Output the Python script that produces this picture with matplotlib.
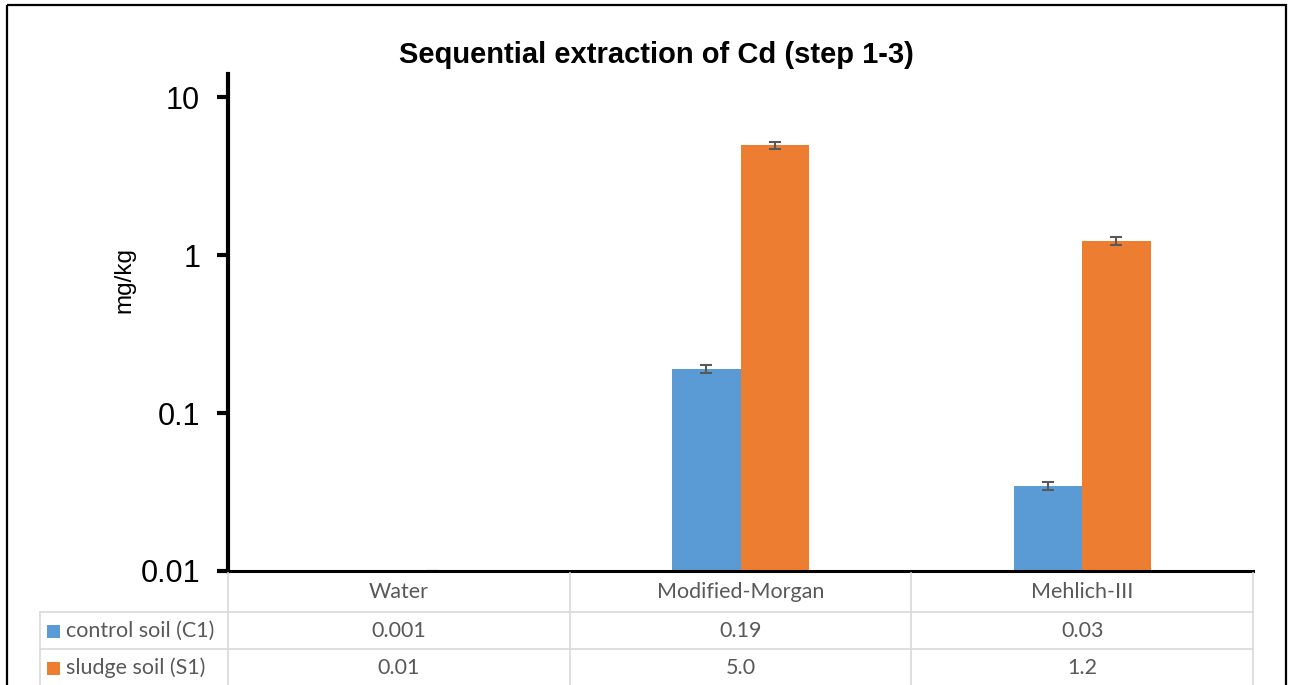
import numpy as np
import matplotlib.pyplot as plt
from matplotlib import transforms
from matplotlib.lines import Line2D
from matplotlib.patches import Rectangle
from matplotlib.ticker import NullLocator

categories = ['Water', 'Modified-Morgan', 'Mehlich-III']
series = ['control soil (C1)', 'sludge soil (S1)']
control = [0.001, 0.19, 0.0345]
sludge = [0.01, 4.95, 1.23]
control_err = [0.0, 0.01, 0.0019]
sludge_err = [0.0, 0.25, 0.067]
table_control = ['0.001', '0.19', '0.03']
table_sludge = ['0.01', '5.0', '1.2']
colors = ['#5B9BD5', '#ED7D31']

W, H = 1289, 685
fig = plt.figure(figsize=(W / 100, H / 100), dpi=100)
# pixel coords measured from top-left
pix = transforms.Affine2D().scale(1 / W, -1 / H).translate(0, 1) + fig.transFigure

ax = fig.add_axes([228 / W, (H - 571) / H, (1253 - 228) / W, (571 - 74) / H])
x = np.arange(len(categories))
w = 0.2
ekw = dict(ecolor='#595959', elinewidth=1.5, capsize=4.3, capthick=1.5)
ax.bar(x - w / 2, control, w, yerr=control_err, color=colors[0], error_kw=ekw)
ax.bar(x + w / 2, sludge, w, yerr=sludge_err, color=colors[1], error_kw=ekw)
ax.set_yscale('log')
ax.set_ylim(0.01, 14)
ax.set_xlim(-0.5, 2.5)
ax.set_yticks([0.01, 0.1, 1, 10])
ax.set_yticklabels(['0.01', '0.1', '1', '10'], family='Liberation Sans')
ax.yaxis.set_minor_locator(NullLocator())
ax.set_xticks([])
for s in ['top', 'right']:
    ax.spines[s].set_visible(False)
ax.spines['left'].set_linewidth(3)
ax.spines['bottom'].set_linewidth(2.2)
ax.tick_params(axis='y', length=8, width=3, labelsize=22, pad=12)

fig.text(656, 55, 'Sequential extraction of Cd (step 1-3)', transform=pix,
         ha='center', va='center', fontsize=21, weight='bold', family='Liberation Sans')
fig.text(124, 280, 'mg/kg', transform=pix, rotation=90, ha='center', va='center',
         fontsize=17.5, family='Liberation Sans')

# data table under the axis
grid = '#D9D9D9'
tcol = '#595959'
tf = 'Lato'
tsize = 15.5
colx = transforms.blended_transform_factory(ax.transData, pix)
bounds = np.arange(len(categories) + 1) - 0.5
for b in bounds:
    fig.add_artist(Line2D([b, b], [573, 700], transform=colx, color=grid, lw=1.2))
fig.add_artist(Line2D([40, 40], [612, 700], transform=pix, color=grid, lw=1.2))
for yy in [612, 649]:
    fig.add_artist(Line2D([40, 1253], [yy, yy], transform=pix, color=grid, lw=1.2))

rows_y = [592, 631, 668]
for i, c in enumerate(categories):
    fig.text(x[i], rows_y[0], c, transform=colx, ha='center', va='center',
             fontsize=tsize, color=tcol, family=tf)
    fig.text(x[i], rows_y[1], table_control[i], transform=colx, ha='center', va='center',
             fontsize=tsize, color=tcol, family=tf)
    fig.text(x[i], rows_y[2], table_sludge[i], transform=colx, ha='center', va='center',
             fontsize=tsize, color=tcol, family=tf)
for j, name in enumerate(series):
    yy = rows_y[j + 1]
    fig.add_artist(Rectangle((47, yy - 6), 13, 13, transform=pix, color=colors[j], lw=0))
    fig.text(66, yy, name, transform=pix, ha='left', va='center',
             fontsize=tsize, color=tcol, family=tf)

# chart border
fig.add_artist(Rectangle((7, 5), 1279, 720, transform=pix, fill=False, ec='black', lw=1.6))

fig.savefig('out.png', dpi=100)
